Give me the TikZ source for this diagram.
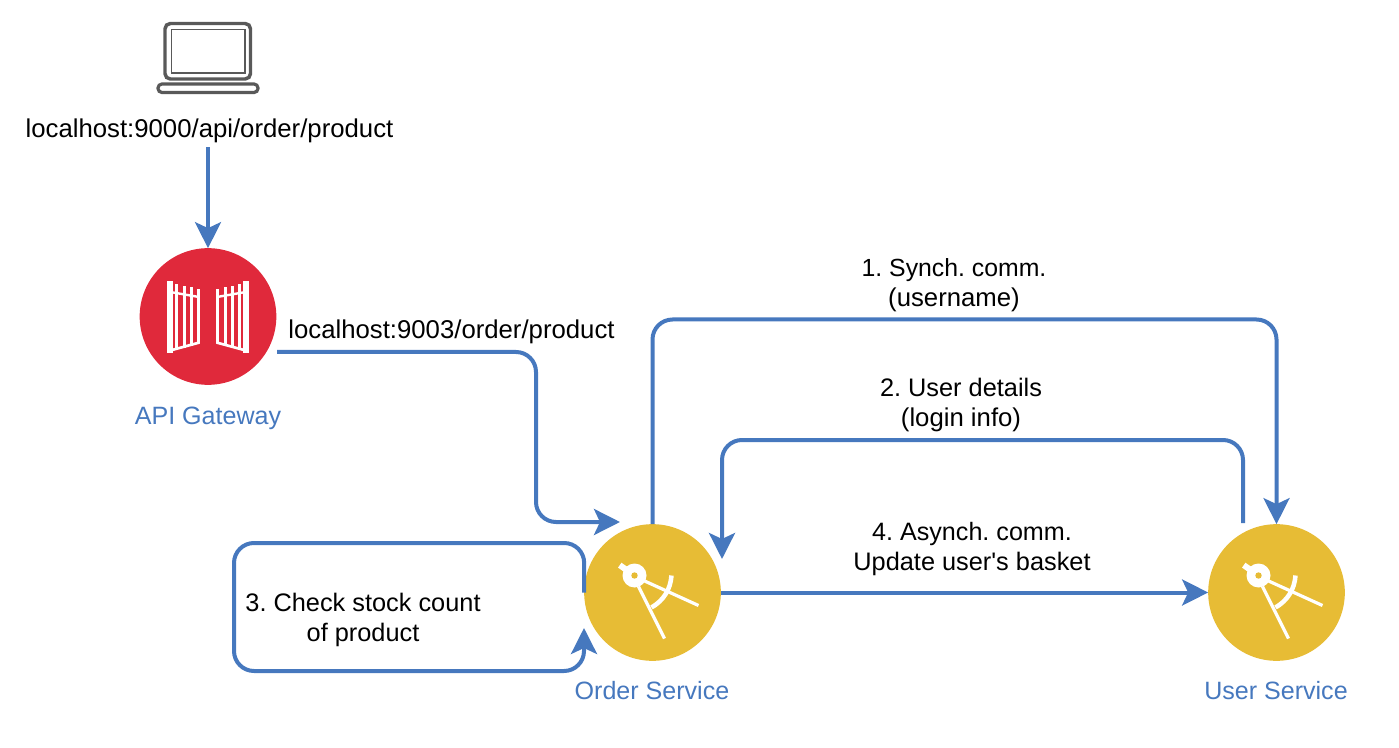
\documentclass[tikz,border=0pt]{standalone}
\usepackage{fontspec}
\setmainfont{Liberation Sans}
\newfontfamily\plainfont{Liberation Sans}
\usetikzlibrary{arrows.meta}
\definecolor{flow}{HTML}{4678BE}
\definecolor{gatered}{HTML}{E0293B}
\definecolor{svcgold}{HTML}{E7BC35}
\definecolor{laptopgray}{HTML}{595959}
\newcommand{\sz}[1]{\fontsize{#1}{22.5}\selectfont}
\tikzset{
  x=0.75pt,y=-0.75pt,
  lbl/.style={inner sep=0pt,align=center,text=black,font=\sz{19.3}\frenchspacing},
  lblb/.style={lbl,font=\sz{19}\frenchspacing},
  caplbl/.style={lbl,text=flow,font=\sz{18.8}\frenchspacing},
  conn/.style={draw=flow,line width=3pt,rounded corners=15pt,-{Stealth[length=19.5pt,width=19.5pt,inset=4.5pt]}},
  disc/.style={circle,inner sep=0pt,minimum size=102.5pt,line width=0pt},
  icon/.style={draw=white,line cap=butt},
  compass/.pic={
    \fill[white,rotate around={-35:(-18,-17)}] (-36,-20) rectangle (-18,-14);
    \fill[white] (-18,-17) circle (12);
    \fill[svcgold] (-18,-17) circle (3.2);
    \draw[icon,line width=2.4pt] (-9,-12) -- (46,13);
    \draw[icon,line width=2.4pt] (-14,-6) -- (12,46);
    \draw[icon,line width=3.4pt] (19,-17) .. controls (18,-3) and (11,8) .. (-1,15);
  }
}
\begin{document}
\begin{tikzpicture}
\useasboundingbox (0,0) rectangle (1399,748);
% laptop
\draw[laptopgray,line width=2.6pt,rounded corners=4pt] (165,23.5) rectangle (250.5,79);
\draw[laptopgray,line width=1.1pt] (171.5,29.5) rectangle (245,73);
\draw[laptopgray,line width=2.4pt,rounded corners=3pt] (158,84) rectangle (258,92.5);
% nodes
\node[lbl] (urlA) at (209.5,131) {localhost:9000/api/order/product};
\node[disc,fill=gatered] (gw) at (208,316.5) {};
\node[disc,fill=svcgold] (order) at (652.5,592.5) {};
\node[disc,fill=svcgold] (user) at (1276.5,592.5) {};
\node[caplbl] (gwlabel) at (208,418.5) {API Gateway};
\node[caplbl] (orderlabel) at (652,691) {Order Service};
\node[caplbl] (userlabel) at (1276,691) {User Service};
\node[lbl] (urlB) at (451.5,332) {localhost:9003/order/product};
\node[lbl] (l1) at (954,285.5) {{\sz{18.6}1. Synch. comm.}\\(username)};
\node[lbl] (l2) at (961,405) {{\sz{19}2. User details}\\(login info)};
\node[lblb] (l3) at (363,619.5) {3. Check stock count\\of product};
\node[lblb] (l4) at (972,549) {{\sz{18.85}4. Asynch. comm.}\\Update user{\plainfont\char39}s basket};
% gate
\foreach \s/\o in {1/0,-1/416} {
  \begin{scope}[white,cm={\s,0,0,1,(\o,0)}]
    \fill (166.7,280.7) rectangle (172.7,353.3);
    \foreach \x/\t/\b in {176.7/284/350,184/286/348,191/287.5/346,198.3/289/343.5}
      \fill (\x-1.5,\t) rectangle (\x+1.5,\b);
    \draw[line width=1.8pt] (172,292.3) -- (199,297);
    \draw[line width=2pt] (172,350) -- (199.5,342.5);
  \end{scope}
}
% compass icons
\pic at (order) {compass};
\pic at (user) {compass};
% connectors
\coordinate (top) at (0,319.5);
\coordinate (mid) at (0,440);
\coordinate (gwout) at (277,352);
\coordinate (routeA) at (536,437);
\coordinate (orderin) at (620,522);
\coordinate (loopL) at (234,600);
\coordinate (loopT) at (0,543);
\coordinate (loopB) at (0,671);
\coordinate (userleg) at (1243,523);
\coordinate (orderleg) at (722,559);
\coordinate (loopend) at (584,628);
\draw[conn] (gw.north |- urlA.south) ++(0,4) -- (gw.north);
\draw[conn] (gwout) -- (routeA |- gwout) -- (routeA |- orderin) -- (orderin);
\draw[conn] (order.north) -- (order.north |- top) -- (user.north |- top) -- (user.north);
\draw[conn] (userleg) -- (userleg |- mid) -- (orderleg |- mid) -- (orderleg);
\draw[conn] (order.west) -- (order.west |- loopT) -- (loopL |- loopT) -- (loopL |- loopB) -- (loopend |- loopB) -- (loopend);
\draw[conn] (order.east) -- (user.west);
\end{tikzpicture}
\end{document}
